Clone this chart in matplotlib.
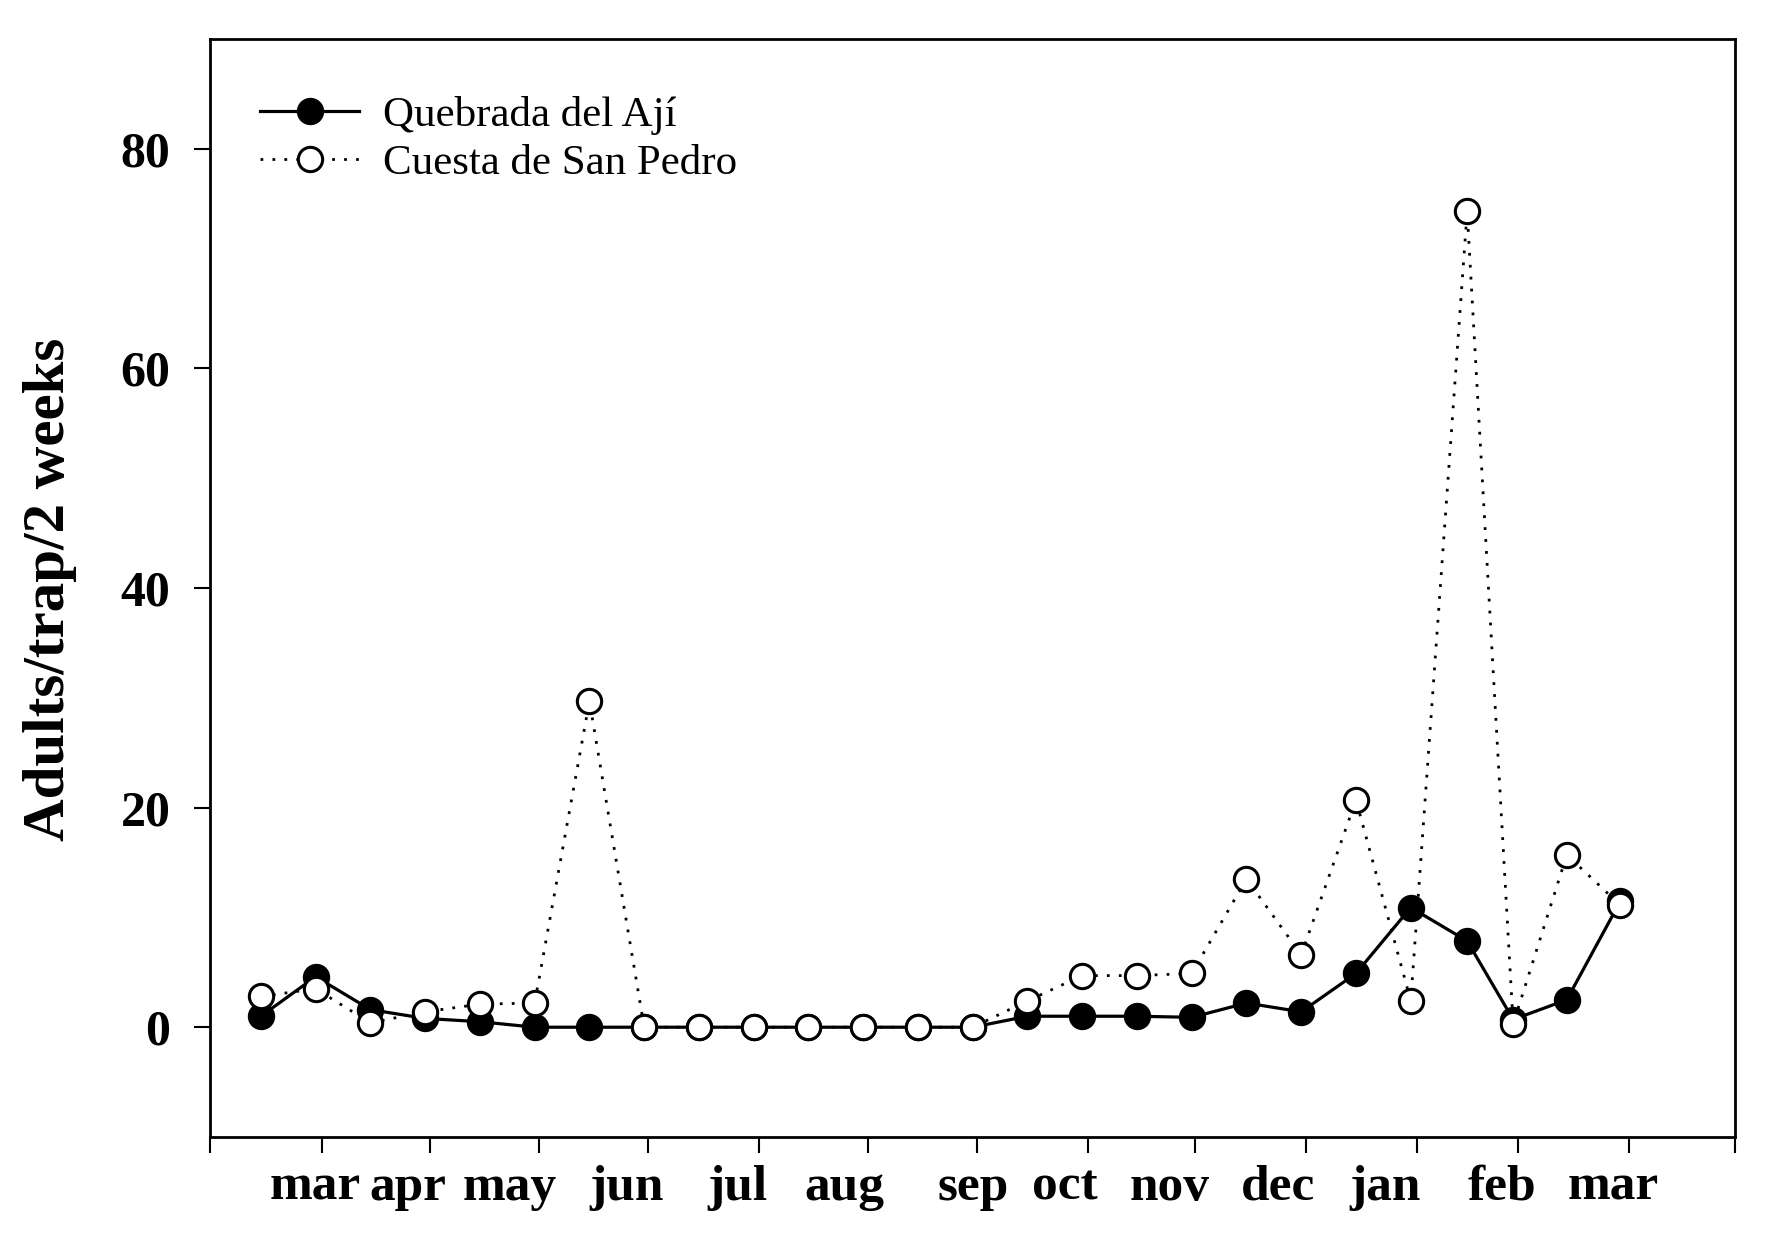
import matplotlib
matplotlib.use('Agg')
import matplotlib.pyplot as plt

plt.rcParams['font.family'] = ['Liberation Serif', 'DejaVu Serif']

# sampling dates in biweekly units (last samples a bit irregular)
samples = list(range(22)) + [22.03, 22.87, 23.85, 24.83]
quebrada = [1.0, 4.6, 1.6, 0.8, 0.5, 0.0, 0.0,
            0.0, 0.0, 0.0, 0.0, 0.0, 0.0, 0.0,
            1.0, 1.0, 1.0, 0.9, 2.2, 1.4, 4.9, 10.9, 7.85, 0.7, 2.5, 11.5]
cuesta = [2.8, 3.5, 0.4, 1.4, 2.1, 2.2, 29.7,
          0.0, 0.0, 0.0, 0.0, 0.0, 0.0, 0.0,
          2.4, 4.7, 4.7, 4.9, 13.5, 6.6, 20.7, 2.4, 74.3, 0.3, 15.7, 11.1]

# month boundaries (in sample units) and month labels
month_ticks = [1.11, 3.09, 5.08, 7.07, 9.10, 11.09, 13.08, 15.11, 17.06, 19.09, 21.11, 22.96, 24.99]
month_label_pos = [1.0, 2.68, 4.55, 6.68, 8.71, 10.65, 13.0, 14.68, 16.60, 18.58, 20.53, 22.67, 24.70]
month_labels = ['mar', 'apr', 'may', 'jun', 'jul', 'aug', 'sep', 'oct', 'nov', 'dec', 'jan', 'feb', 'mar']
y_ticks = [0, 20, 40, 60, 80]

xmin, xmax = -0.93, 26.92

fig = plt.figure(figsize=(17.66, 12.34), dpi=100)
ax = fig.add_axes([0.1189, 0.0786, 0.8635, 0.8898])

ax.plot(samples, quebrada, '-', color='k', lw=2.3, marker='o', ms=17.5,
        mfc='k', mec='k', mew=2.2, label='Quebrada del Ají')
ax.plot(samples, cuesta, color='k', lw=2, dashes=(1, 3.3), marker='o', ms=17.5,
        mfc='white', mec='k', mew=2.2, label='Cuesta de San Pedro')

ax.set_xlim(xmin, xmax)
ax.set_ylim(-10, 90)

ax.set_xticks([xmin] + month_ticks + [xmax])
ax.set_xticklabels([])
ax.set_xticks(month_label_pos, minor=True)
ax.set_xticklabels(month_labels, minor=True, fontsize=37, fontweight='bold')
ax.tick_params(axis='x', which='major', direction='out', length=11.5, width=1.5)
ax.tick_params(axis='x', which='minor', length=0, pad=20)

ax.set_yticks(y_ticks)
ax.set_yticklabels([str(v) for v in y_ticks], fontsize=36, fontweight='bold')
ax.tick_params(axis='y', direction='out', length=11.5, width=1.5, pad=17)

for sp in ax.spines.values():
    sp.set_linewidth(2)

fig.text(50 / 1766, 1 - 589 / 1234, 'Adults/trap/2 weeks', rotation=90,
         ha='center', va='center', fontsize=42.5, fontweight='bold')

ax.legend(loc='upper left', bbox_to_anchor=(0.0328, 0.948), frameon=False,
          fontsize=31, numpoints=1, handlelength=2.3, handletextpad=0.55,
          labelspacing=0.2, borderpad=0, borderaxespad=0)

fig.savefig('out.png', dpi=100)
